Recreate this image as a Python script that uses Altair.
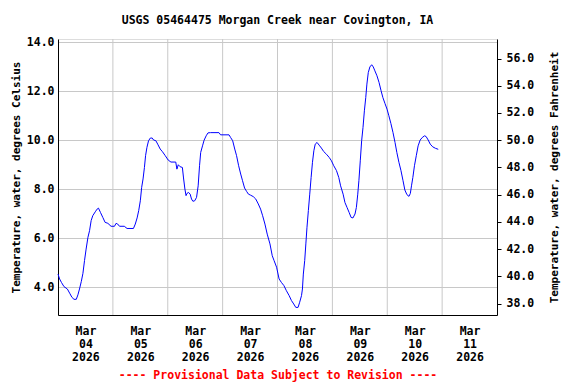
import altair as alt
import pandas as pd

# Hours since 2026-03-04 00:00 and water temperature (deg C)
hours = [0, 0.7, 1.5, 2.6, 4.1, 5.1, 6.1, 7, 8, 8.7, 9.4, 10.2, 10.9, 11.6, 12.3, 13.1,
         13.8, 14.5, 15.2, 16.3, 17.1, 17.7, 18.6, 19.6, 20.6, 21.8, 23.2, 24.7, 25.4,
         26.1, 26.9, 29, 30.2, 33, 33.8, 34.6, 35.3, 36, 36.6, 37.2, 37.8, 38.3, 38.9,
         39.6, 40.4, 41.2, 41.8, 42.8, 43.6, 44.7, 45.7, 46.9, 48.2, 49.4, 51.5, 52,
         52.6, 53.4, 54.4, 54.9, 55.5, 56, 56.4, 57.1, 57.8, 58.4, 59, 59.8, 60.6, 61.3,
         61.9, 62.4, 63.2, 63.9, 64.8, 65.6, 66.7, 70.4, 71.1, 74.8, 75.5, 76.4, 77.3,
         78.1, 79, 79.9, 80.7, 81.6, 82.5, 83.3, 84.2, 85.4, 86.5, 87.6, 88.6, 89.5,
         90.5, 91.5, 92.7, 93.7, 94.5, 95.6, 96.7, 97.7, 98.8, 99.9, 101.1, 102.1,
         103.1, 104, 105, 105.7, 106.5, 106.9, 107.3, 107.9, 108.4, 108.9, 109.5,
         110.1, 110.7, 111.3, 111.9, 112.5, 113.3, 114.2, 115.2, 116.2, 117.4, 118.6,
         119.6, 120.6, 121.8, 122.8, 123.6, 124.7, 125.5, 126.4, 127.3, 128.2, 129,
         129.9, 130.5, 131.1, 131.6, 132.2, 132.8, 133.4, 134, 134.6, 135.1, 135.7,
         136.4, 137.2, 137.9, 138.6, 139.5, 140.4, 141.3, 142.1, 143, 143.9, 144.7,
         145.6, 146.5, 147.4, 148.2, 149.1, 150, 150.9, 151.7, 152.6, 153.5, 154.1,
         154.6, 155.2, 155.9, 156.7, 157.5, 158.4, 159.3, 160.3, 161, 161.9, 162.8,
         163.9, 165.1, 166.3]
temp_c = [4.54, 4.34, 4.2, 4.03, 3.93, 3.76, 3.59, 3.51, 3.51, 3.69, 3.93, 4.24, 4.57,
          5.09, 5.56, 6.04, 6.31, 6.72, 6.92, 7.08, 7.19, 7.23, 7.05, 6.85, 6.65, 6.61,
          6.49, 6.49, 6.61, 6.58, 6.49, 6.49, 6.4, 6.4, 6.58, 6.83, 7.13, 7.53, 8.08,
          8.42, 8.89, 9.37, 9.71, 9.98, 10.09, 10.09, 10.01, 9.98, 9.84, 9.64, 9.53,
          9.37, 9.19, 9.11, 9.11, 8.82, 9.0, 8.92, 8.89, 8.46, 8.01, 7.74, 7.83, 7.87,
          7.8, 7.6, 7.51, 7.53, 7.67, 8.14, 8.96, 9.5, 9.77, 10.0, 10.18, 10.3, 10.31,
          10.31, 10.22, 10.22, 10.11, 9.98, 9.64, 9.37, 8.96, 8.62, 8.35, 8.05, 7.91,
          7.8, 7.76, 7.7, 7.6, 7.4, 7.19, 6.92, 6.58, 6.17, 5.77, 5.29, 5.09, 4.82,
          4.34, 4.2, 4.07, 3.86, 3.66, 3.46, 3.32, 3.18, 3.18, 3.39, 3.66, 3.93, 4.54,
          5.09, 5.77, 6.45, 7.13, 7.8, 8.48, 9.1, 9.57, 9.84, 9.91, 9.8, 9.68, 9.54,
          9.43, 9.3, 9.16, 8.96, 8.76, 8.48, 8.14, 7.8, 7.46, 7.26, 7.06, 6.85, 6.83,
          6.99, 7.26, 7.8, 8.35, 9.16, 9.98, 10.52, 11.2, 11.74, 12.29, 12.76, 12.99,
          13.08, 12.99, 12.83, 12.63, 12.36, 12.02, 11.74, 11.5, 11.27, 11.0, 10.68,
          10.32, 9.91, 9.5, 9.1, 8.76, 8.35, 7.97, 7.78, 7.71, 7.83, 8.14, 8.48, 8.96,
          9.37, 9.77, 10.01, 10.11, 10.18, 10.15, 10.01, 9.84, 9.73, 9.67, 9.63]

day_months = ["Mar"] * 8
day_numbers = ["04", "05", "06", "07", "08", "09", "10", "11"]
day_years = ["2026"] * 8
label_hours = [12, 36, 60, 84, 108, 132, 156, 180]
grid_hours = [24, 48, 72, 96, 120, 144, 168]
c_ticks = [4, 6, 8, 10, 12, 14]
f_ticks = [38, 40, 42, 44, 46, 48, 50, 52, 54, 56]
c_domain = [2.87, 14.13]
f_domain = [c_domain[0] * 1.8 + 32, c_domain[1] * 1.8 + 32]

df = pd.DataFrame({"h": hours, "c": temp_c})
df["f"] = df["c"] * 1.8 + 32
grid_df = pd.DataFrame({"h": grid_hours})

FONT = "DejaVu Sans Mono"
lab_arr = "[" + ",".join(
    "['%s','%s','%s']" % (m, d, y) for m, d, y in zip(day_months, day_numbers, day_years)
) + "]"
label_expr = lab_arr + "[floor(datum.value/24)]"

x_scale = alt.Scale(domain=[0, 192], nice=False, zero=False)
x_axis = alt.Axis(values=label_hours, labelExpr=label_expr, grid=False, ticks=False,
                  labelFont=FONT, labelFontWeight="bold", labelFontSize=11.5,
                  labelLineHeight=13, labelPadding=10, labelColor="black",
                  domainColor="black",
                  title="---- Provisional Data Subject to Revision ----",
                  titleColor="#FF0000", titleFont=FONT, titleFontWeight="bold",
                  titleFontSize=11.5, titlePadding=7)

grid = alt.Chart(grid_df).mark_rule(color="#c8c8c8", strokeWidth=1).encode(
    x=alt.X("h:Q", scale=x_scale, axis=x_axis)
)

line_c = alt.Chart(df).mark_line(color="#0000FF", strokeWidth=1).encode(
    x=alt.X("h:Q", scale=x_scale, axis=x_axis),
    y=alt.Y("c:Q", scale=alt.Scale(domain=c_domain, nice=False, zero=False),
            axis=alt.Axis(values=c_ticks, format=".1f", orient="left", grid=True,
                          gridColor="#c8c8c8", ticks=False, labelPadding=4,
                          labelFont=FONT, labelFontWeight="bold", labelFontSize=11.5,
                          labelColor="black", domainColor="black",
                          title="Temperature, water, degrees Celsius",
                          titleFont=FONT, titleFontWeight="bold", titleFontSize=11,
                          titleColor="black", titlePadding=5)),
)

line_f = alt.Chart(df).mark_line(opacity=0).encode(
    x=alt.X("h:Q", scale=x_scale, axis=x_axis),
    y=alt.Y("f:Q", scale=alt.Scale(domain=f_domain, nice=False, zero=False),
            axis=alt.Axis(values=f_ticks, format=".1f", orient="right", grid=False,
                          ticks=True, tickSize=4, tickColor="black", labelPadding=5,
                          labelFont=FONT, labelFontWeight="bold", labelFontSize=11.5,
                          labelColor="black", domainColor="black",
                          title="Temperature, water, degrees Fahrenheit",
                          titleAngle=270, titleBaseline="bottom",
                          titleFont=FONT, titleFontWeight="bold", titleFontSize=11,
                          titleColor="black", titlePadding=26)),
)

chart = alt.layer(grid, line_c, line_f).resolve_scale(y="independent").properties(
    width=439, height=276,
    title=alt.TitleParams("USGS 05464475 Morgan Creek near Covington, IA",
                          font=FONT, fontWeight="bold", fontSize=11.5,
                          color="black", anchor="middle", offset=10),
    padding={"left": 2, "top": 6, "right": 2, "bottom": 2},
).configure_view(stroke="black", strokeWidth=1).configure(background="white")

chart.save("out.html", embed_options={"renderer": "svg", "actions": False})
